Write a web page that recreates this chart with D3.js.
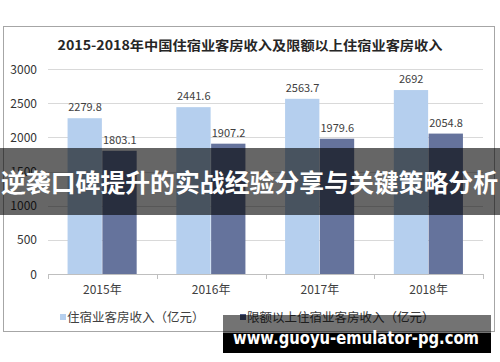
<!DOCTYPE html>
<html><head><meta charset="utf-8">
<script src="https://cdn.jsdelivr.net/npm/d3@7/dist/d3.min.js"></script>
<style>body{margin:0;background:#fff}svg{display:block}</style>
</head><body>
<script>
const title = "2015-2018年中国住宿业客房收入及限额以上住宿业客房收入";
const categories = ["2015年","2016年","2017年","2018年"];
const seriesNames = ["住宿业客房收入（亿元）","限额以上住宿业客房收入（亿元）"];
const roomRevenue = [2279.8, 2441.6, 2563.7, 2692];
const aboveQuotaRevenue = [1803.1, 1907.2, 1979.6, 2054.8];
const yTicks = [0,500,1000,1500,2000,2500,3000];
const bannerText = "逆袭口碑提升的实战经验分享与关键策略分析";
const watermark = "www.guoyu-emulator-pg.com";

const W=500,H=362;
const colors=["#b5cfee","#65739c"];
const font="'Noto Sans CJK SC','Noto Sans',sans-serif";
const svg=d3.select("body").append("svg").attr("width",W).attr("height",H);

// frame
svg.append("rect").attr("x",3.5).attr("y",26.5).attr("width",491).attr("height",305)
  .attr("fill","#fff").attr("stroke","#a6a6a6");

svg.append("text").attr("x",250).attr("y",50).attr("text-anchor","middle")
  .attr("font-family",font).attr("font-weight","bold").attr("font-size",13).attr("fill","#262626")
  .attr("textLength",385).attr("lengthAdjust","spacingAndGlyphs").text(title);

const y=d3.scaleLinear().domain([0,3000]).range([274,69]);
const x0=d3.scaleBand().domain(categories).range([48,483]).paddingInner(0.36).paddingOuter(0.18);
const x1=d3.scaleBand().domain([0,1]).range([0,x0.bandwidth()]);

// grid
svg.append("g").selectAll("line").data(yTicks.filter(d=>d>0)).join("line")
  .attr("x1",48).attr("x2",483).attr("y1",d=>Math.round(y(d))+0.5).attr("y2",d=>Math.round(y(d))+0.5)
  .attr("stroke","#d9d9d9");
// y labels
svg.append("g").selectAll("text").data(yTicks).join("text")
  .attr("x",37).attr("y",d=>y(d)+4.5).attr("text-anchor","end")
  .attr("font-family",font).attr("font-size",12).attr("fill","#333").text(d=>d);

const data=categories.map((c,i)=>({c,v:[roomRevenue[i],aboveQuotaRevenue[i]]}));
const g=svg.append("g").selectAll("g").data(data).join("g").attr("transform",d=>`translate(${x0(d.c)},0)`);
g.selectAll("rect").data(d=>d.v.map((v,k)=>({v,k}))).join("rect")
  .attr("x",d=>x1(d.k)).attr("width",x1.bandwidth()-0.5)
  .attr("y",d=>y(d.v)).attr("height",d=>y(0)-y(d.v)).attr("fill",d=>colors[d.k]);
g.selectAll("text").data(d=>d.v.map((v,k)=>({v,k}))).join("text")
  .attr("x",d=>x1(d.k)+x1.bandwidth()/2).attr("y",d=>y(d.v)-7)
  .attr("text-anchor","middle").attr("font-family",font).attr("font-size",11).attr("fill","#404040")
  .text(d=>d.v);

// x axis
const step=x0.step();
svg.append("line").attr("x1",48).attr("x2",483).attr("y1",274.5).attr("y2",274.5).attr("stroke","#bfbfbf");
const bounds=[0,1,2,3,4].map(i=>48+i*step);
svg.append("g").selectAll("line").data(bounds).join("line")
  .attr("x1",d=>Math.round(d)+0.5).attr("x2",d=>Math.round(d)+0.5).attr("y1",274).attr("y2",279).attr("stroke","#bfbfbf");
svg.append("g").selectAll("text").data(categories).join("text")
  .attr("x",d=>x0(d)+x0.bandwidth()/2).attr("y",294).attr("text-anchor","middle")
  .attr("font-family",font).attr("font-size",12).attr("fill","#404040").text(d=>d);

// legend
const legX=[60,240];
seriesNames.forEach((n,i)=>{
  svg.append("rect").attr("x",legX[i]).attr("y",314).attr("width",6).attr("height",6).attr("fill",i?"#4f5b86":colors[0]);
  svg.append("text").attr("x",legX[i]+7).attr("y",322).attr("font-family",font).attr("font-size",12.5)
    .attr("fill","#404040").text(n);
});

// banner overlay
svg.append("rect").attr("x",0).attr("y",148).attr("width",500).attr("height",67).attr("fill","rgba(0,0,0,0.6)");
svg.append("text").attr("x",1).attr("y",192).attr("font-family",font).attr("font-weight","bold")
  .attr("font-size",24.5).attr("fill","#fff").attr("textLength",497).attr("lengthAdjust","spacingAndGlyphs").text(bannerText);

// watermark
svg.append("rect").attr("x",223).attr("y",315).attr("width",268).attr("height",18).attr("fill","rgba(0,0,0,0.55)");
svg.append("rect").attr("x",223).attr("y",333).attr("width",268).attr("height",20).attr("fill","#000");
svg.append("text").attr("x",233).attr("y",344).attr("font-family","'DejaVu Sans',sans-serif").attr("font-weight","bold")
  .attr("font-size",17).attr("fill","#fff").attr("textLength",246).attr("lengthAdjust","spacingAndGlyphs").text(watermark);
</script>
</body></html>
